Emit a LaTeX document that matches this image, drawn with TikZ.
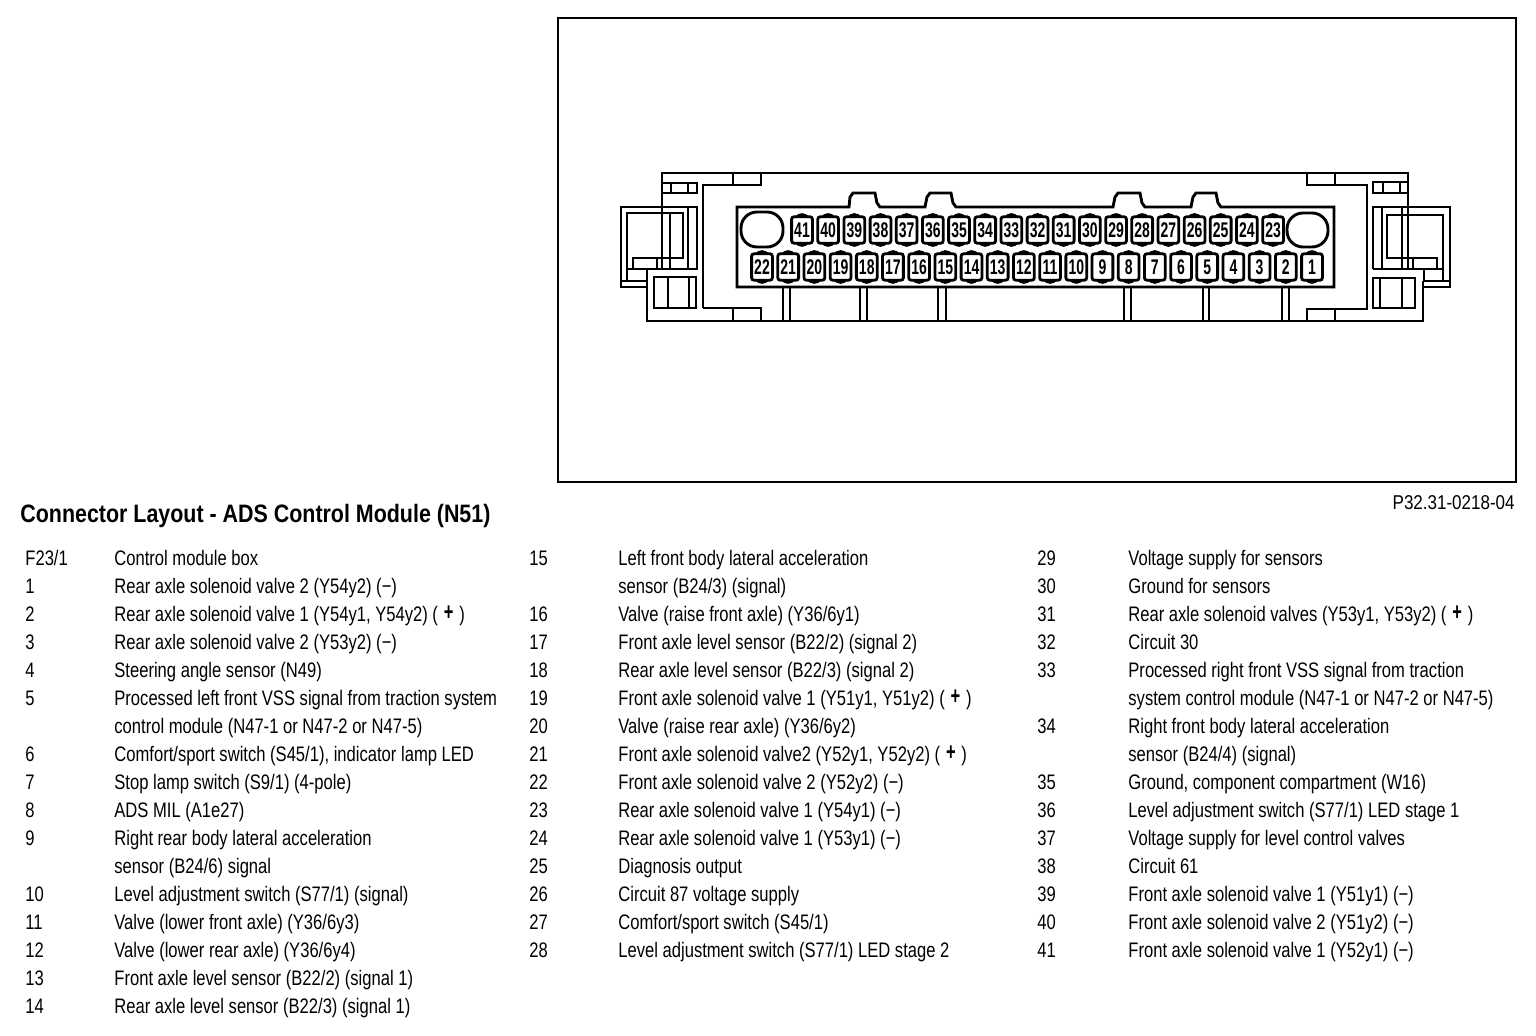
\documentclass[tikz,border=0pt]{standalone}
\usepackage{fontspec}
\setmainfont{Liberation Sans}
\newfontfamily\bodyfont[FakeStretch=0.79]{Liberation Sans}
\newfontfamily\codefont[FakeStretch=0.85]{Liberation Sans}
\newfontfamily\headfont[FakeStretch=0.85]{Liberation Sans Bold}
\newfontfamily\pinfont[FakeStretch=0.66]{Liberation Sans Bold}
\tikzset{
  frameline/.style={draw=black,line width=1.1pt},
  wire/.style={draw=black,line width=1.45pt,line join=miter},
  fine/.style={draw=black,line width=0.9pt},
  lbl/.style={anchor=base west,inner sep=0pt,font=\bodyfont\fontsize{10.5}{12}\selectfont,text=black},
  headlbl/.style={anchor=base west,inner sep=0pt,font=\headfont\fontsize{12.6}{14}\selectfont,text=black},
  codelbl/.style={anchor=base east,inner sep=0pt,font=\codefont\fontsize{10}{12}\selectfont,text=black},
  pinbox/.style={draw=black,fill=white,line width=1.4pt,rounded corners=1.2pt,minimum width=10.4pt,minimum height=13.2pt,inner sep=0pt,font=\pinfont\fontsize{10.6}{10}\selectfont,text=black},
}
\newcommand{\entrycol}[2]{\def\numx{#1}\def\textx{#2}}
\newcommand{\entryrow}[4]{%
  \node[lbl] (n#1) at (\numx,{\basey+27.94*#2}) {#3};
  \node[lbl] (t#1) at (\textx,{\basey+27.94*#2}) {#4};}
\newcommand{\entrycont}[3]{%
  \node[lbl] (t#1) at (\textx,{\basey+27.94*#2}) {#3};}
\newcommand{\plus}{\hspace{0.6pt}{\pinfont\fontsize{12.5}{12}\selectfont\raisebox{0.5pt}{+}}\hspace{0.6pt}}
\begin{document}
\begin{tikzpicture}[x=0.5pt,y=-0.5pt]
\useasboundingbox[fill=white] (0,0) rectangle (1536,1036);
% frame
\draw[frameline] (558,18) rectangle (1516,482);
% housing outline
\draw[wire] (662,269) -- (662,173) -- (1408,173) -- (1408,269);
\draw[wire] (647,269) -- (647,321) -- (1423,321) -- (1423,281);
% left inner wall and tabs
\draw[wire] (662,183) -- (697,183);
\draw[wire] (733,173) -- (733,184);
\draw[wire] (703,308) -- (703,185) -- (761,185) -- (761,173);
\draw[wire] (733,321) -- (733,308);
\draw[wire] (703,308) -- (761,308) -- (761,321);
% right inner wall and tabs
\draw[wire] (1307,173) -- (1307,185) -- (1367,185) -- (1367,309) -- (1307,309) -- (1307,321);
\draw[wire] (1335,173) -- (1335,185);
\draw[wire] (1335,309) -- (1335,321);
% small top boxes
\draw[wire] (662,183) rectangle (697,193);
\draw[fine] (671,183) -- (671,193) (688,183) -- (688,193);
\draw[wire] (1373,182) rectangle (1408,193);
\draw[fine] (1383,182) -- (1383,193) (1400,182) -- (1400,193);
% left plug
\draw[wire] (647,269) -- (697,269) -- (697,207) -- (621,207) -- (621,287) -- (647,287);
\draw[wire] (621,281) -- (647,281);
\draw[wire] (627,281) -- (627,213) -- (683,213) -- (683,258) -- (633,258) -- (633,269);
\draw[wire] (627,269) -- (647,269);
\draw[fine] (688,207) -- (688,269) (670,213) -- (670,269) (657,258) -- (657,269);
\draw[wire] (654,277) rectangle (696,308);
\draw[fine] (668,277) -- (668,308) (689,277) -- (689,308);
% right plug
\draw[wire] (1373,269) -- (1373,207) -- (1450,207) -- (1450,287) -- (1423,287);
\draw[wire] (1423,281) -- (1450,281);
\draw[wire] (1373,269) -- (1443,269);
\draw[wire] (1443,280) -- (1443,215) -- (1387,215) -- (1387,258) -- (1437,258) -- (1437,269);
\draw[fine] (1382,207) -- (1382,269) (1402,207) -- (1402,269) (1413,258) -- (1413,269);
\draw[wire] (1424,269) -- (1424,281);
\draw[wire] (1373,278) rectangle (1415,308);
\draw[fine] (1380,278) -- (1380,308) (1402,278) -- (1402,308);
% central body with keys
\draw[wire] (737,207) -- (849,207) -- (850,197) -- (853,193) -- (875,193) -- (877,203) -- (880,207)
  -- (925,207) -- (927,197) -- (930,193) -- (951,193) -- (953,203) -- (956,207)
  -- (1113,207) -- (1115,197) -- (1118,193) -- (1140,193) -- (1142,203) -- (1145,207)
  -- (1191,207) -- (1193,197) -- (1196,193) -- (1216,193) -- (1218,203) -- (1221,207)
  -- (1334,207) -- (1334,287) -- (737,287) -- cycle;
% posts
\foreach \a/\b in {783/790,860/867,938/946,1124/1131,1203/1209,1282/1289}{
  \draw[wire] (\a,287) -- (\a,321) (\b,287) -- (\b,321);
}
% ovals
\draw[wire,rounded corners=8pt] (741,212) rectangle (783,247);
\draw[wire,rounded corners=8pt] (1287,213) rectangle (1328,247);
% pins
\foreach \n [count=\i from 0] in {41,40,...,23}{
  \pgfmathsetmacro{\px}{802+26.17*\i}
  \fill (\px-7,218) .. controls (\px-5,211.5) and (\px+5,211.5) .. (\px+7,218) -- cycle;
  \fill (\px-7,242) .. controls (\px-5,248.5) and (\px+5,248.5) .. (\px+7,242) -- cycle;
  \node[pinbox] (p\n) at (\px,230) {\n};
}
\foreach \n [count=\i from 0] in {22,21,...,1}{
  \pgfmathsetmacro{\px}{762+26.19*\i}
  \fill (\px-7,255) .. controls (\px-5,248.5) and (\px+5,248.5) .. (\px+7,255) -- cycle;
  \fill (\px-7,279) .. controls (\px-5,285.5) and (\px+5,285.5) .. (\px+7,279) -- cycle;
  \node[pinbox] (p\n) at (\px,267) {\n};
}
% headings
\node[headlbl] (title) at (20,523) {Connector Layout - ADS Control Module (N51)};
\node[codelbl] (code) at (1515,510) {P32.31-0218-04};
% column 1
\def\basey{566}
\entrycol{25}{114}
\entryrow{f}{0}{F23/1}{Control module box}
\entryrow{1}{1}{1}{Rear axle solenoid valve 2 (Y54y2) (−)}
\entryrow{2}{2}{2}{Rear axle solenoid valve 1 (Y54y1, Y54y2) ( \plus{} )}
\entryrow{3}{3}{3}{Rear axle solenoid valve 2 (Y53y2) (−)}
\entryrow{4}{4}{4}{Steering angle sensor (N49)}
\entryrow{5}{5}{5}{Processed left front VSS signal from traction system}
\entrycont{5b}{6}{control module (N47-1 or N47-2 or N47-5)}
\entryrow{6}{7}{6}{Comfort/sport switch (S45/1), indicator lamp LED}
\entryrow{7}{8}{7}{Stop lamp switch (S9/1) (4-pole)}
\entryrow{8}{9}{8}{ADS MIL (A1e27)}
\entryrow{9}{10}{9}{Right rear body lateral acceleration}
\entrycont{9b}{11}{sensor (B24/6) signal}
\entryrow{10}{12}{10}{Level adjustment switch (S77/1) (signal)}
\entryrow{11}{13}{11}{Valve (lower front axle) (Y36/6y3)}
\entryrow{12}{14}{12}{Valve (lower rear axle) (Y36/6y4)}
\entryrow{13}{15}{13}{Front axle level sensor (B22/2) (signal 1)}
\entryrow{14}{16}{14}{Rear axle level sensor (B22/3) (signal 1)}
% column 2
\def\basey{566}
\entrycol{529}{618}
\entryrow{15}{0}{15}{Left front body lateral acceleration}
\entrycont{15b}{1}{sensor (B24/3) (signal)}
\entryrow{16}{2}{16}{Valve (raise front axle) (Y36/6y1)}
\entryrow{17}{3}{17}{Front axle level sensor (B22/2) (signal 2)}
\entryrow{18}{4}{18}{Rear axle level sensor (B22/3) (signal 2)}
\entryrow{19}{5}{19}{Front axle solenoid valve 1 (Y51y1, Y51y2) ( \plus{} )}
\entryrow{20}{6}{20}{Valve (raise rear axle) (Y36/6y2)}
\entryrow{21}{7}{21}{Front axle solenoid valve2 (Y52y1, Y52y2) ( \plus{} )}
\entryrow{22}{8}{22}{Front axle solenoid valve 2 (Y52y2) (−)}
\entryrow{23}{9}{23}{Rear axle solenoid valve 1 (Y54y1) (−)}
\entryrow{24}{10}{24}{Rear axle solenoid valve 1 (Y53y1) (−)}
\entryrow{25}{11}{25}{Diagnosis output}
\entryrow{26}{12}{26}{Circuit 87 voltage supply}
\entryrow{27}{13}{27}{Comfort/sport switch (S45/1)}
\entryrow{28}{14}{28}{Level adjustment switch (S77/1) LED stage 2}
% column 3
\def\basey{566}
\entrycol{1037}{1128}
\entryrow{29}{0}{29}{Voltage supply for sensors}
\entryrow{30}{1}{30}{Ground for sensors}
\entryrow{31}{2}{31}{Rear axle solenoid valves (Y53y1, Y53y2) ( \plus{} )}
\entryrow{32}{3}{32}{Circuit 30}
\entryrow{33}{4}{33}{Processed right front VSS signal from traction}
\entrycont{33b}{5}{system control module (N47-1 or N47-2 or N47-5)}
\entryrow{34}{6}{34}{Right front body lateral acceleration}
\entrycont{34b}{7}{sensor (B24/4) (signal)}
\entryrow{35}{8}{35}{Ground, component compartment (W16)}
\entryrow{36}{9}{36}{Level adjustment switch (S77/1) LED stage 1}
\entryrow{37}{10}{37}{Voltage supply for level control valves}
\entryrow{38}{11}{38}{Circuit 61}
\entryrow{39}{12}{39}{Front axle solenoid valve 1 (Y51y1) (−)}
\entryrow{40}{13}{40}{Front axle solenoid valve 2 (Y51y2) (−)}
\entryrow{41}{14}{41}{Front axle solenoid valve 1 (Y52y1) (−)}
\end{tikzpicture}
\end{document}
